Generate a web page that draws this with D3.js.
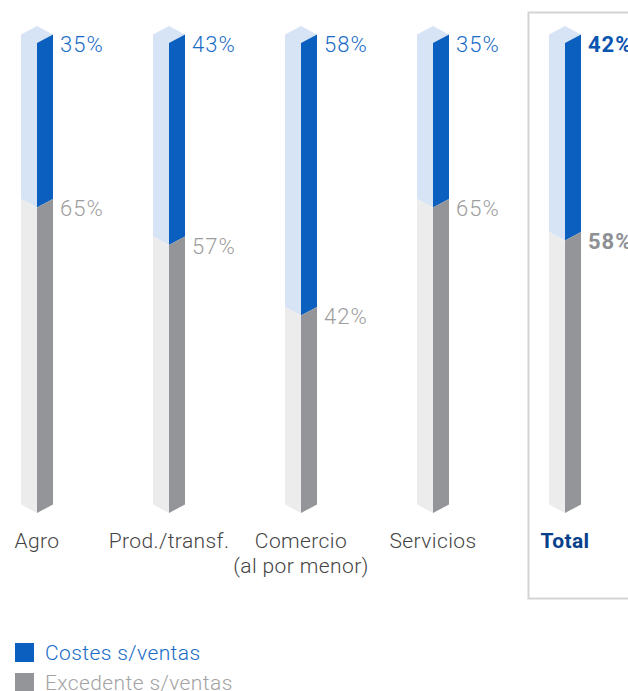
<!DOCTYPE html>
<html>
<head>
<meta charset="utf-8">
<script src="https://cdn.jsdelivr.net/npm/d3@7"></script>
<style>
  body { margin: 0; background: #fff; }
  svg text { font-family: "Roboto", "Lato", sans-serif; }
</style>
</head>
<body>
<div id="chart"></div>
<script>
// Datos
const categorias = ["Agro", "Prod./transf.", "Comercio\n(al por menor)", "Servicios", "Total"];
const costes = [35, 43, 58, 35, 42];
const excedente = [65, 57, 42, 65, 58];
const leyenda = ["Costes s/ventas", "Excedente s/ventas"];

const width = 628, height = 691;
const w = 16;   // media anchura de la barra
const d = 8.5;  // inclinación de las caras

const svg = d3.select("#chart").append("svg")
  .attr("width", width)
  .attr("height", height);

// caja del total
svg.append("rect")
  .attr("x", 528.5).attr("y", 12.5)
  .attr("width", 120).attr("height", 586)
  .attr("fill", "none")
  .attr("stroke", "#d4d4d4")
  .attr("stroke-width", 2);

const x = d3.scalePoint().domain(categorias).range([37, 565]);
const y = d3.scaleLinear().domain([0, 100]).range([43, 513]);

const data = categorias.map((c, i) => ({ cat: c, costes: costes[i], excedente: excedente[i], total: i === categorias.length - 1 }));

const colores = {
  azulOsc: "#0a5fbf", azulClaro: "#d7e4f5",
  grisOsc: "#939598", grisClaro: "#ececec"
};

function caraIzq(cx, y0, y1) {
  return [[cx - w, y0 - d], [cx, y0], [cx, y1], [cx - w, y1 - d]];
}
function caraDer(cx, y0, y1) {
  return [[cx, y0], [cx + w, y0 - d], [cx + w, y1 - d], [cx, y1]];
}
const line = d3.line().curve(d3.curveLinearClosed);

const barra = svg.selectAll("g.barra")
  .data(data)
  .enter()
  .append("g")
  .attr("class", "barra");

// tramo de costes (arriba), con la tapa
barra.append("path")
  .attr("fill", colores.azulClaro)
  .attr("d", b => line([[x(b.cat) - w, y(0) - d], [x(b.cat), y(0) - 2 * d], [x(b.cat) + w, y(0) - d], [x(b.cat), y(0)], [x(b.cat), y(b.costes)], [x(b.cat) - w, y(b.costes) - d]]));
barra.append("path")
  .attr("fill", colores.azulOsc)
  .attr("d", b => line(caraDer(x(b.cat), y(0), y(b.costes))));

// tramo de excedente (abajo)
barra.append("path")
  .attr("fill", colores.grisClaro)
  .attr("d", b => line(caraIzq(x(b.cat), y(b.costes), y(100))));
barra.append("path")
  .attr("fill", colores.grisOsc)
  .attr("d", b => line(caraDer(x(b.cat), y(b.costes), y(100))));

// etiquetas de porcentaje
barra.append("text")
  .attr("x", b => x(b.cat) + 23)
  .attr("y", b => y(0) - d + 17)
  .attr("font-size", 22)
  .attr("letter-spacing", 1)
  .attr("font-weight", b => b.total ? 700 : 300)
  .attr("fill", b => b.total ? "#0a55b0" : "#1a6cc6")
  .text(b => b.costes + "%");

barra.append("text")
  .attr("x", b => x(b.cat) + 23)
  .attr("y", b => y(b.costes) - d + 17)
  .attr("font-size", 22)
  .attr("letter-spacing", 1)
  .attr("font-weight", b => b.total ? 700 : 300)
  .attr("fill", b => b.total ? "#8e9094" : "#9d9d9d")
  .text(b => b.excedente + "%");

// categorías
barra.append("text")
  .attr("text-anchor", "middle")
  .attr("x", b => x(b.cat))
  .attr("y", 548)
  .attr("font-size", 21)
  .attr("letter-spacing", 0.4)
  .attr("font-weight", b => b.total ? 700 : 300)
  .attr("fill", b => b.total ? "#07418c" : "#444")
  .each(function (b) {
    const t = d3.select(this);
    b.cat.split("\n").forEach((l, i) => {
      t.append("tspan").attr("x", x(b.cat)).attr("dy", i ? 25 : 0).text(l);
    });
  });

// leyenda
const ley = svg.selectAll("g.ley")
  .data(leyenda)
  .enter()
  .append("g")
  .attr("transform", (l, i) => `translate(15, ${643 + i * 30})`);

ley.append("rect")
  .attr("width", 19).attr("height", 19)
  .attr("fill", (l, i) => i ? colores.grisOsc : colores.azulOsc);

ley.append("text")
  .attr("x", 30).attr("y", 17)
  .attr("font-size", 21)
  .attr("letter-spacing", 0.4)
  .attr("font-weight", 300)
  .attr("fill", (l, i) => i ? "#a3a3a3" : "#1a6cc6")
  .text(l => l);
</script>
</body>
</html>
